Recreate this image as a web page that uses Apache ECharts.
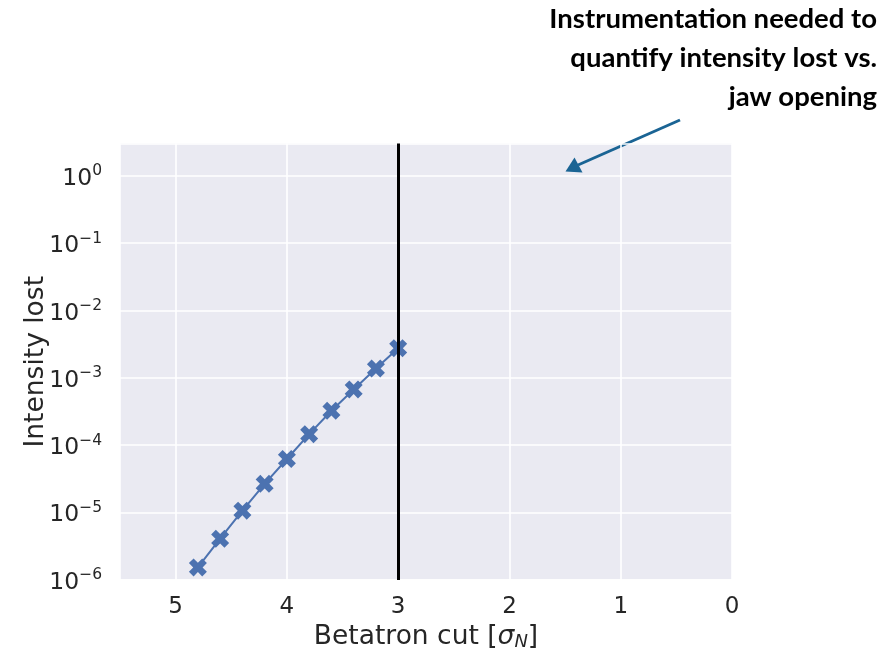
<!DOCTYPE html>
<html>
<head>
<meta charset="utf-8">
<script src="https://cdn.jsdelivr.net/npm/echarts@6/dist/echarts.min.js"></script>
<style>
  html, body { margin: 0; padding: 0; background: #ffffff; }
  #chart { width: 895px; height: 654px; }
</style>
</head>
<body>
<div id="chart"></div>
<script>
// Betatron cut position (in units of normalised sigma) and the fraction of intensity lost
const betatronCut = [4.8, 4.6, 4.4, 4.2, 4.0, 3.8, 3.6, 3.4, 3.2, 3.0];
const intensityLost = [1.52e-6, 4.06e-6, 1.06e-5, 2.65e-5, 6.2e-5, 1.45e-4, 3.23e-4, 6.7e-4, 1.37e-3, 2.75e-3];

// Current collimator setting
const jawSetting = 3;

// Axis ranges
const xRange = [0, 5.5];
const yRange = [Math.pow(10, -6.005), Math.pow(10, 0.48)];

const annotationLines = [
  'Instrumentation needed to',
  'quantify intensity lost vs.',
  'jaw opening'
];

const ink = '#262626';
const blue = '#4c72b0';
const arrowBlue = '#1a6494';

// Filled "X" marker with thick arms
const xMarker = 'path://M0,2.6 L2.6,0 L5,2.4 L7.4,0 L10,2.6 L7.6,5 L10,7.4 L7.4,10 L5,7.6 L2.6,10 L0,7.4 L2.4,5 Z';

const chart = echarts.init(document.getElementById('chart'), null, { renderer: 'canvas' });

const superDigits = v => {
  const e = Math.round(Math.log10(v));
  if (Math.abs(Math.log10(v) - e) > 1e-6) return '';
  const exp = e < 0 ? '\u2212' + Math.abs(e) : String(e);
  return '{b|10}{s|' + exp + '}';
};

chart.setOption({
  animation: false,
  backgroundColor: '#ffffff',
  grid: {
    left: 120, right: 163, top: 143.5, bottom: 74,
    outerBoundsMode: 'none',
    containLabel: false,
    show: true,
    backgroundColor: '#eaeaf2',
    borderWidth: 0
  },
  xAxis: {
    type: 'value',
    inverse: true,
    min: xRange[0],
    max: xRange[1],
    interval: 1,
    axisLine: { show: false },
    axisTick: { show: false },
    splitLine: { show: true, lineStyle: { color: '#ffffff', width: 1.6 } },
    axisLabel: {
      color: ink,
      fontFamily: 'DejaVu Sans',
      fontSize: 23,
      margin: 16,
      formatter: v => (Math.abs(v - Math.round(v)) < 1e-9 ? String(Math.round(v)) : '')
    },
    name: '{n|Betatron cut [}{i|\u03c3}{sub|N}{n|]}',
    nameLocation: 'middle',
    nameGap: 43,
    nameMoveOverlap: false,
    nameTextStyle: {
      color: ink,
      fontFamily: 'DejaVu Sans',
      fontSize: 26.5,
      rich: {
        n: { color: ink, fontFamily: 'DejaVu Sans', fontSize: 26.5 },
        i: { color: ink, fontFamily: 'DejaVu Sans', fontStyle: 'italic', fontSize: 26.5 },
        sub: { color: ink, fontFamily: 'DejaVu Sans', fontStyle: 'italic', fontSize: 18, padding: [10, 0, 0, 0] }
      }
    }
  },
  yAxis: {
    type: 'log',
    logBase: 10,
    min: yRange[0],
    max: yRange[1],
    axisLine: { show: false },
    axisTick: { show: false },
    splitLine: { show: true, lineStyle: { color: '#ffffff', width: 1.6 } },
    minorTick: { show: false },
    axisLabel: {
      color: ink,
      fontFamily: 'DejaVu Sans',
      fontSize: 23.5,
      margin: 18,
      padding: [6, 0, 0, 0],
      formatter: superDigits,
      rich: {
        b: { color: ink, fontFamily: 'DejaVu Sans', fontSize: 23.5 },
        s: { color: ink, fontFamily: 'DejaVu Sans', fontSize: 15.5, padding: [0, 0, 15, 0] }
      }
    },
    name: 'Intensity lost',
    nameLocation: 'middle',
    nameGap: 70,
    nameMoveOverlap: false,
    nameTextStyle: { color: ink, fontFamily: 'DejaVu Sans', fontSize: 26.5 }
  },
  series: [{
    type: 'line',
    data: betatronCut.map((x, i) => [x, intensityLost[i]]),
    symbol: xMarker,
    symbolSize: 18,
    showAllSymbol: true,
    lineStyle: { color: blue, width: 2 },
    itemStyle: { color: blue },
    z: 3,
    markLine: {
      silent: true,
      symbol: ['none', 'none'],
      label: { show: false },
      lineStyle: { color: '#000000', width: 3, type: 'solid' },
      data: [{ xAxis: jawSetting }],
      z: 4
    }
  }],
  graphic: [
    {
      type: 'text',
      x: 877,
      y: 0,
      style: {
        text: annotationLines.join('\n'),
        fill: '#000000',
        font: 'bold 27.5px Lato',
        lineHeight: 39,
        align: 'right',
        verticalAlign: 'top'
      }
    },
    {
      type: 'line',
      shape: { x1: 680, y1: 120, x2: 578, y2: 165 },
      style: { stroke: arrowBlue, lineWidth: 3 }
    },
    {
      type: 'polygon',
      shape: { points: [[565.5, 171.5], [574.5, 157.5], [582.5, 172.5]] },
      style: { fill: arrowBlue }
    }
  ]
});
</script>
</body>
</html>
